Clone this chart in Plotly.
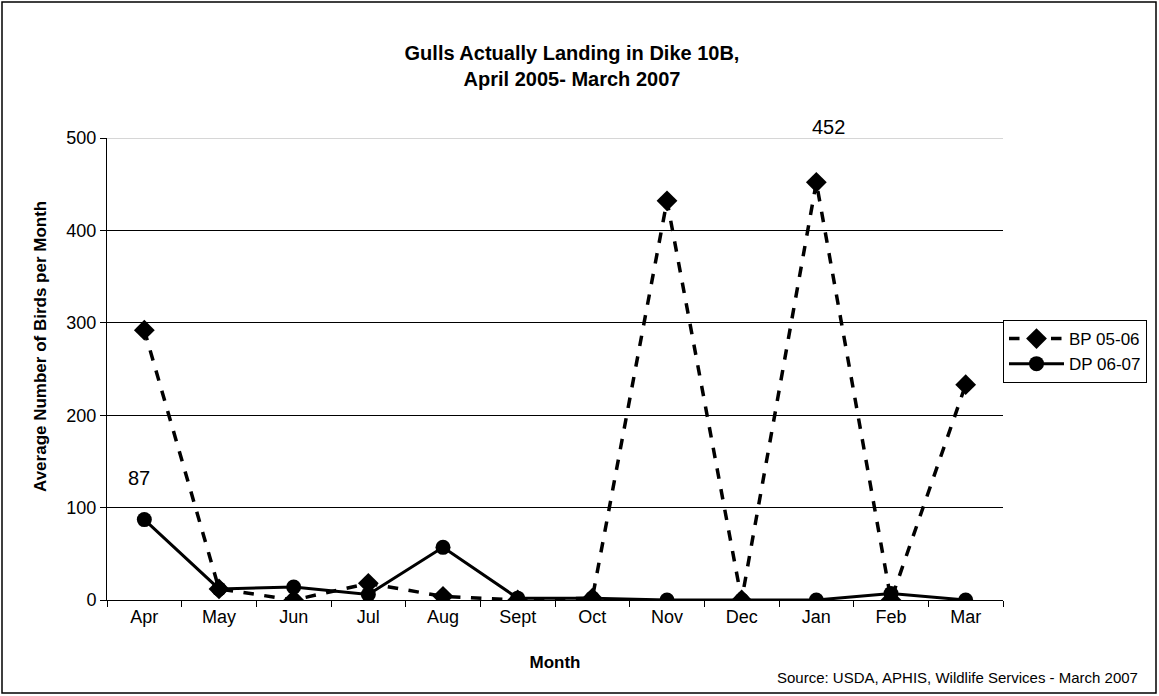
import plotly.graph_objects as go

months = ["Apr", "May", "Jun", "Jul", "Aug", "Sept", "Oct", "Nov", "Dec", "Jan", "Feb", "Mar"]
bp_0506 = [292, 12, 0, 18, 4, 0, 2, 432, 0, 452, 0, 233]
dp_0607 = [87, 12, 14, 6, 57, 2, 2, 0, 0, 0, 7, 0]
y_ticks = [0, 100, 200, 300, 400, 500]

FONT = "Liberation Sans, Arial, sans-serif"

fig = go.Figure()
fig.add_trace(go.Scatter(
    x=months, y=bp_0506, name="BP 05-06", mode="lines+markers",
    line=dict(color="black", width=3.5, dash="dash"),
    marker=dict(symbol="diamond", size=16, color="black"),
))
fig.add_trace(go.Scatter(
    x=months, y=dp_0607, name="DP 06-07", mode="lines+markers",
    line=dict(color="black", width=3),
    marker=dict(symbol="circle", size=15, color="black"),
))

# data labels
fig.add_annotation(x=months[9], y=bp_0506[9], text=str(bp_0506[9]), showarrow=False,
                   xref="x", yref="y", yshift=55, xshift=12, font=dict(size=20, color="black", family=FONT))
fig.add_annotation(x=months[0], y=dp_0607[0], text=str(dp_0607[0]), showarrow=False,
                   xref="x", yref="y", yshift=42, xshift=-5, font=dict(size=20, color="black", family=FONT))

fig.add_annotation(text="Source: USDA, APHIS, Wildlife Services - March 2007", xref="paper", yref="paper",
                   x=(1140 - 107) / 896, y=(600 - 677) / 462, xanchor="right", yanchor="middle",
                   showarrow=False, font=dict(size=15, color="black", family=FONT))

# y-axis title placed as in the reference (slightly above plot centre)
fig.add_annotation(text="<b>Average Number of Birds per Month</b>", xref="paper", yref="paper",
                   x=(40 - 107) / 896, y=(600 - 347) / 462, xanchor="center", yanchor="middle",
                   textangle=-90, showarrow=False, font=dict(size=17, color="black", family=FONT))

# outer border
fig.add_shape(type="rect", xref="paper", yref="paper",
              x0=(2 - 107) / 896, x1=(1156 - 107) / 896,
              y0=(600 - 693) / 462, y1=(600 - 2) / 462,
              line=dict(color="black", width=1.5), layer="below")

# lighter top gridline like the reference
fig.add_shape(type="line", xref="paper", yref="y", x0=0, x1=1, y0=y_ticks[-1], y1=y_ticks[-1],
              line=dict(color="#c8c8c8", width=1.5), layer="below")

fig.update_layout(
    width=1159, height=696,
    margin=dict(l=107, r=156, t=138, b=96),
    paper_bgcolor="white", plot_bgcolor="white",
    font=dict(family=FONT, color="black"),
    title=dict(text="<b>Gulls Actually Landing in Dike 10B,<br>April 2005- March 2007</b>",
               x=572 / 1159, xanchor="center", y=1 - 60 / 696, yanchor="middle",
               font=dict(size=20, color="black", family=FONT)),
    showlegend=True,
    legend=dict(x=1.0, xanchor="left", y=(600 - 320) / 462, yanchor="top",
                bordercolor="black", borderwidth=1, bgcolor="white", itemwidth=55,
                font=dict(size=17, color="black", family=FONT), tracegroupgap=0),
    xaxis=dict(type="category", categoryorder="array", categoryarray=months,
               showline=True, linecolor="black", linewidth=1,
               ticks="outside", ticklen=6, tickcolor="black", tickson="boundaries",
               showgrid=False, tickfont=dict(size=18, color="black"),
               title=dict(text="<b>Month</b>", font=dict(size=17, color="black"), standoff=30),
               range=[-0.5, 11.5]),
    yaxis=dict(range=[0, 500], tickvals=y_ticks, showline=True, linecolor="black", linewidth=1,
               ticks="outside", ticklen=6, tickcolor="black",
               showgrid=True, gridcolor="black", gridwidth=1, zeroline=False,
               tickfont=dict(size=18, color="black")),
)

fig.write_html("out.html", config={"displayModeBar": False},
               post_script="document.body.style.margin='0';document.body.style.overflow='hidden';")
